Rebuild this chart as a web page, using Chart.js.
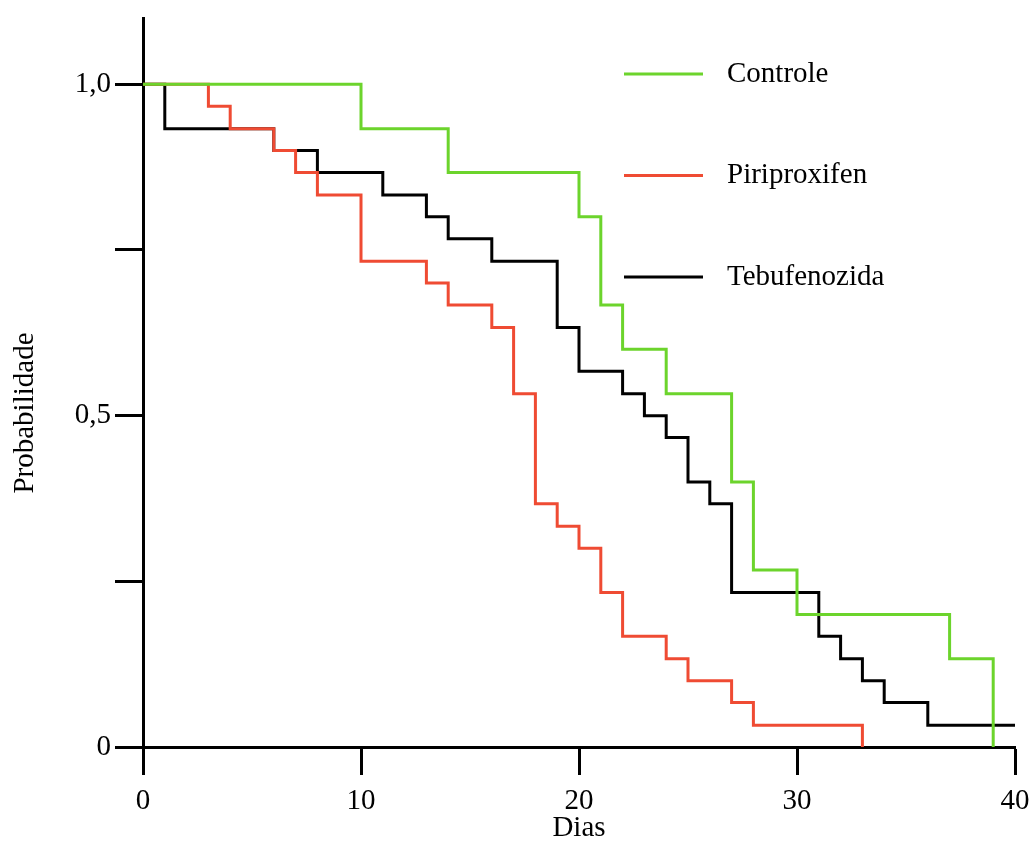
<!DOCTYPE html>
<html>
<head>
<meta charset="utf-8">
<script src="https://cdn.jsdelivr.net/npm/chart.js@4.4.1/dist/chart.umd.min.js"></script>
<style>
    html, body { margin: 0; padding: 0; background: #fff; }
    #wrap { width: 1031px; height: 844px; }
</style>
</head>
<body>
<div id="wrap"><canvas id="kmChart" width="1031" height="844"></canvas></div>
<script>
    // Kaplan-Meier curves (day of event, survival after it)
    const controleDays = [0, 10, 14, 20, 21, 22, 24, 27, 28, 30, 37, 39];
    const controleSurv = [1, 0.933, 0.867, 0.8, 0.667, 0.6, 0.533, 0.4, 0.267, 0.2, 0.133, 0];

    const piriDays = [0, 3, 4, 6, 7, 8, 10, 13, 14, 16, 17, 18, 19, 20, 21, 22, 24, 25, 27, 28, 33];
    const piriSurv = [1, 0.967, 0.933, 0.9, 0.867, 0.833, 0.733, 0.7, 0.667, 0.633, 0.533, 0.367, 0.333, 0.3, 0.233, 0.167, 0.133, 0.1, 0.067, 0.033, 0];

    const tebuDays = [0, 1, 6, 8, 11, 13, 14, 16, 19, 20, 22, 23, 24, 25, 26, 27, 31, 32, 33, 34, 36, 40];
    const tebuSurv = [1, 0.933, 0.9, 0.867, 0.833, 0.8, 0.767, 0.733, 0.633, 0.567, 0.533, 0.5, 0.467, 0.4, 0.367, 0.233, 0.167, 0.133, 0.1, 0.067, 0.033, 0.033];

    const seriesNames = ['Controle', 'Piriproxifen', 'Tebufenozida'];
    const seriesColors = ['#6cd42c', '#ef4b33', '#000000'];

    const xTicks = [0, 10, 20, 30, 40];
    const yTickValues = [0, 0.25, 0.5, 0.75, 1];
    const yTickLabels = ['0', '', '0,5', '', '1,0'];
    const yTitle = 'Probabilidade';

    const toPoints = (days, surv) => days.map((d, i) => ({ x: d, y: surv[i] }));

    const serif = "'Liberation Serif', 'DejaVu Serif', serif";
    Chart.defaults.font.family = serif;
    Chart.defaults.color = '#000';

    // legend drawn as in the figure: three rows inside the plot, upper right,
    // plus the y title, which sits a bit below the middle of the axis
    const sideLegend = {
        id: 'sideLegend',
        afterDatasetsDraw(chart) {
            const ctx = chart.ctx;
            ctx.save();
            ctx.font = '29px ' + serif;
            ctx.textBaseline = 'middle';
            ctx.fillStyle = '#000';
            chart.data.datasets.forEach((ds, i) => {
                const y = 74 + i * 101.5;
                ctx.strokeStyle = ds.borderColor;
                ctx.lineWidth = 3;
                ctx.beginPath();
                ctx.moveTo(624, y);
                ctx.lineTo(703, y);
                ctx.stroke();
                ctx.fillText(ds.label, 727, y);
            });

            ctx.translate(25, 413);
            ctx.rotate(-Math.PI / 2);
            ctx.textAlign = 'center';
            ctx.fillText(yTitle, 0, 0);
            ctx.restore();
        }
    };

    const datasets = [
        toPoints(controleDays, controleSurv),
        toPoints(piriDays, piriSurv),
        toPoints(tebuDays, tebuSurv)
    ].map((pts, i) => ({
        label: seriesNames[i],
        data: pts,
        borderColor: seriesColors[i],
        borderWidth: 3,
        pointRadius: 0,
        stepped: 'before',
        fill: false
    }));

    new Chart(document.getElementById('kmChart'), {
        type: 'line',
        data: { datasets },
        options: {
            responsive: false,
            animation: false,
            devicePixelRatio: 1,
            layout: { padding: { top: 18, right: 16, left: 0, bottom: 0 } },
            plugins: {
                legend: { display: false },
                tooltip: { enabled: false }
            },
            scales: {
                x: {
                    type: 'linear',
                    min: 0,
                    max: 40,
                    afterBuildTicks: scale => {
                        scale.ticks = xTicks.map(v => ({ value: v }));
                    },
                    afterFit: scale => {
                        scale.height = 97;
                        scale.paddingLeft = 0;
                        scale.paddingRight = 0;
                    },
                    ticks: {
                        font: { size: 29 },
                        padding: 9,
                        maxRotation: 0,
                        callback: v => String(v)
                    },
                    grid: {
                        drawOnChartArea: false,
                        tickLength: 28,
                        tickWidth: 3,
                        tickColor: '#000'
                    },
                    border: { color: '#000', width: 3 },
                    title: {
                        display: true,
                        text: 'Dias',
                        font: { size: 29 },
                        padding: { top: 0, bottom: -2 }
                    }
                },
                y: {
                    min: 0,
                    max: 1.1,
                    afterBuildTicks: scale => {
                        scale.ticks = yTickValues.map(v => ({ value: v }));
                    },
                    afterFit: scale => {
                        scale.width = 143;
                        scale.paddingTop = 0;
                        scale.paddingBottom = 0;
                    },
                    ticks: {
                        font: { size: 29 },
                        padding: 4,
                        callback: (v) => {
                            const idx = yTickValues.indexOf(v);
                            return idx >= 0 ? yTickLabels[idx] : '';
                        }
                    },
                    grid: {
                        drawOnChartArea: false,
                        tickLength: 28,
                        tickWidth: 3,
                        tickColor: '#000'
                    },
                    border: { color: '#000', width: 3 }
                }
            }
        },
        plugins: [sideLegend]
    });
</script>
</body>
</html>
